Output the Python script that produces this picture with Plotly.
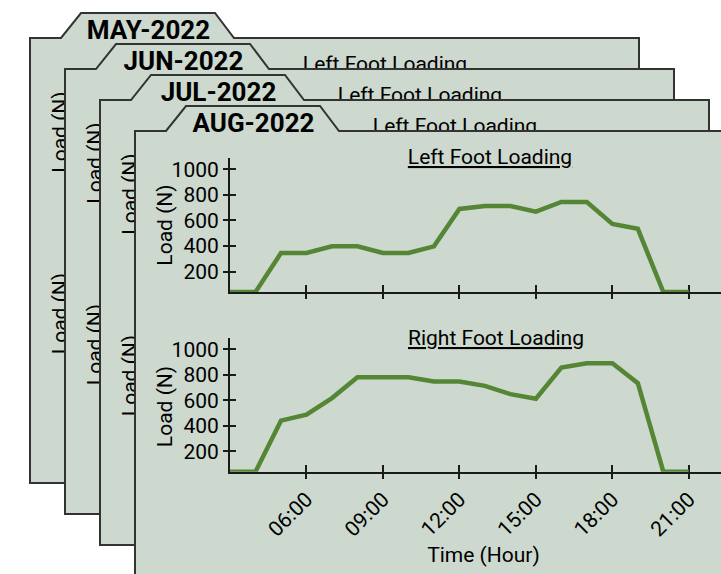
import plotly.graph_objects as go

W, H = 721, 574

# ---------------- data ----------------
months = ["MAY-2022", "JUN-2022", "JUL-2022", "AUG-2022"]
hours = list(range(3, 22))
left_load = [40, 40, 345, 345, 397, 397, 345, 345, 397, 690, 713, 713, 668, 744, 744, 573, 534, 40, 40]
right_load = [40, 40, 440, 487, 617, 781, 781, 781, 747, 747, 713, 648, 612, 856, 890, 890, 734, 40, 40]
tick_hours = [6, 9, 12, 15, 18, 21]
tick_labels = ["06:00", "09:00", "12:00", "15:00", "18:00", "21:00"]
y_ticks = [200, 400, 600, 800, 1000]
chart_titles = ["Left Foot Loading", "Right Foot Loading"]
y_title = "Load (N)"
x_title = "Time (Hour)"

# ---------------- style / geometry ----------------
FONT = "Roboto"
GREEN = "#558636"
PANEL_FILL = "rgb(205,216,206)"
PANEL_LINE = "#333333"
AXIS = "#1a1a1a"


def px(x):
    return x / W


def py(y):
    return 1 - y / H


# front panel (AUG) placement, each older panel shifted up-left
FRONT_L, FRONT_T, FRONT_R, FRONT_B = 135, 131, 744, 576
DX, DY = 35, 31

# front chart geometry (pixels)
X0_PIX = 230
PX_PER_HOUR = 25.49
Y_RANGE = [40, 1088]
TOP_PLOT = (158, 292)
BOT_PLOT = (338, 471.7)


def panel_path(L, T, R, B):
    pts = [(L, B), (L, T), (L + 31, T), (L + 51, T - 25), (L + 185, T - 25),
           (L + 204, T), (R, T), (R, B)]
    return "M " + " L ".join(f"{px(a):.5f},{py(b):.5f}" for a, b in pts) + " Z"


def text_shape(cx, cy, text, size, angle=0):
    return dict(
        type="rect", xref="paper", yref="paper", layer="below",
        x0=px(cx - 1), x1=px(cx + 1), y0=py(cy + 1), y1=py(cy - 1),
        line=dict(width=0), fillcolor="rgba(0,0,0,0)",
        label=dict(text=text, font=dict(family=FONT, size=size, color="black"),
                   textangle=angle, textposition="middle center"),
    )


shapes = []
for i, month in enumerate(months):
    k = len(months) - 1 - i
    ox, oy = -DX * k, -DY * k
    L, T = FRONT_L + ox, FRONT_T + oy
    R, B = FRONT_R + ox, FRONT_B + oy
    shapes.append(dict(type="path", xref="paper", yref="paper", layer="below",
                       path=panel_path(L, T, R, B), fillcolor=PANEL_FILL,
                       line=dict(color=PANEL_LINE, width=2)))
    shapes.append(text_shape(L + 118.5, T - 10.5, f"<b>{month}</b>", 26))
    shapes.append(text_shape(490 + ox, 155 + oy, f"<u>{chart_titles[0]}</u>", 21))
    shapes.append(text_shape(496 + ox, 336 + oy, f"<u>{chart_titles[1]}</u>", 21))
    shapes.append(text_shape(163 + ox, 225 + oy, y_title, 21, angle=-90))
    shapes.append(text_shape(163 + ox, 406.5 + oy, y_title, 21, angle=-90))
    shapes.append(text_shape(483.5 + ox, 552.5 + oy, x_title, 21))

x_dom = [px(X0_PIX), 1]
x_rng = [3, 3 + (W - X0_PIX) / PX_PER_HOUR]
top_dom = [py(TOP_PLOT[1]), py(TOP_PLOT[0])]
bot_dom = [py(BOT_PLOT[1]), py(BOT_PLOT[0])]

common = dict(showgrid=False, zeroline=False, layer="below traces",
              tickcolor=AXIS, tickwidth=1.5,
              tickfont=dict(family=FONT, size=21, color="black"))
main_x = dict(common, showline=True, linecolor=AXIS, linewidth=2, ticks="outside",
              ticklen=5, domain=x_dom, range=x_rng, tickvals=tick_hours)
main_y = dict(common, showline=True, linecolor=AXIS, linewidth=2, ticks="outside",
              ticklen=5, range=Y_RANGE, tickvals=y_ticks)
over_x = dict(common, showline=False, ticks="inside", ticklen=7, domain=x_dom,
              range=x_rng, tickvals=tick_hours, showticklabels=False)
over_y = dict(common, showline=False, ticks="inside", ticklen=6, range=Y_RANGE,
              tickvals=y_ticks, showticklabels=False)

fig = go.Figure()
line_style = dict(color=GREEN, width=4.5)
fig.add_trace(go.Scatter(x=hours, y=left_load, mode="lines", line=line_style,
                         xaxis="x", yaxis="y", hoverinfo="skip"))
fig.add_trace(go.Scatter(x=hours, y=right_load, mode="lines", line=line_style,
                         xaxis="x2", yaxis="y2", hoverinfo="skip"))
fig.add_trace(go.Scatter(x=hours, y=left_load, mode="lines", opacity=0,
                         xaxis="x3", yaxis="y3", hoverinfo="skip"))
fig.add_trace(go.Scatter(x=hours, y=right_load, mode="lines", opacity=0,
                         xaxis="x4", yaxis="y4", hoverinfo="skip"))

fig.update_layout(
    width=W, height=H,
    margin=dict(l=0, r=0, t=0, b=0, pad=0),
    paper_bgcolor="white", plot_bgcolor="rgba(0,0,0,0)",
    showlegend=False,
    font=dict(family=FONT, color="black"),
    xaxis=dict(main_x, anchor="y", showticklabels=False),
    yaxis=dict(main_y, anchor="x", domain=top_dom),
    xaxis2=dict(main_x, anchor="y2", ticktext=tick_labels, tickangle=-45),
    yaxis2=dict(main_y, anchor="x2", domain=bot_dom),
    xaxis3=dict(over_x, overlaying="x", anchor="y3"),
    yaxis3=dict(over_y, overlaying="y", anchor="x3", domain=top_dom),
    xaxis4=dict(over_x, overlaying="x2", anchor="y4"),
    yaxis4=dict(over_y, overlaying="y2", anchor="x4", domain=bot_dom),
    shapes=shapes,
)

fig.write_html("out.html", config={"displayModeBar": False},
               post_script="document.body.style.margin='0';document.body.style.overflow='hidden';")
